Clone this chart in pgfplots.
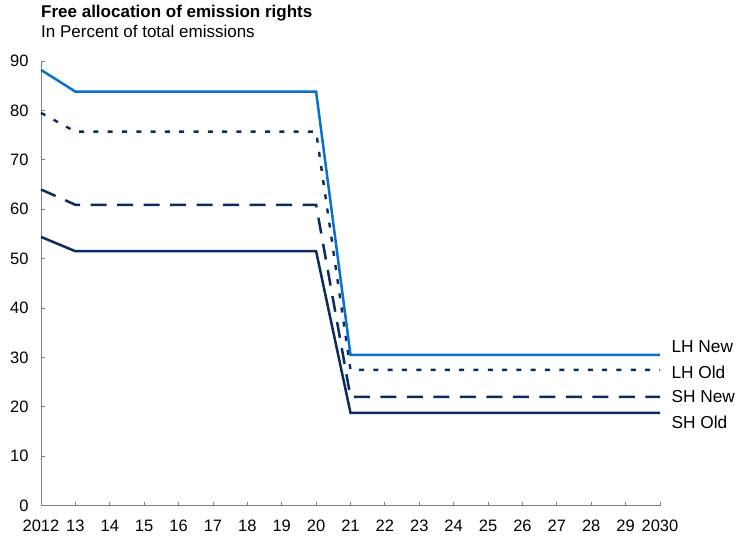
\documentclass[border=0pt]{standalone}
\usepackage{fontspec}
\setmainfont{Liberation Sans}
\usepackage{pgfplots}
\pgfplotsset{compat=1.18}
\definecolor{lhnew}{HTML}{0A6FD0}
\definecolor{navy}{HTML}{0C2C5E}
\definecolor{axgray}{HTML}{7F7F7F}
\begin{document}
\begin{tikzpicture}
\path[use as bounding box] (-41pt,-30.3pt) rectangle (700pt,505.7pt);
\begin{axis}[
  at={(0pt,0pt)}, anchor=south west,
  scale only axis, width=619pt, height=444.7pt,
  xmin=2012, xmax=2030, ymin=0, ymax=90,
  xtick={2012,2013,...,2030},
  xticklabels={2012,13,14,15,16,17,18,19,20,21,22,23,24,25,26,27,28,29,2030},
  ytick={0,10,...,90},
  axis x line*=bottom, axis y line*=left,
  axis line style={axgray, line width=0.8pt, -},
  tick style={axgray, line width=0.8pt},
  tick align=inside,
  major tick length=4pt,
  ticklabel style={font=\fontsize{16.5}{19}\selectfont},
  yticklabel style={xshift=-9pt},
  xticklabel style={yshift=-11pt},
  /pgf/number format/assume math mode=true,
  /pgf/number format/1000 sep={},
  clip=false,
]
\addplot[navy, line width=2.5pt] coordinates {(2012,54.4)(2013,51.5)(2020,51.5)(2021,18.8)(2030,18.8)};
\addplot[navy, line width=2.5pt, dash pattern=on 16pt off 10.5pt] coordinates {(2012,64)(2013,60.9)(2020,60.9)(2021,22)(2030,22)};
\addplot[navy, line width=2.4pt, dash pattern=on 5pt off 9.3pt] coordinates {(2012,79.5)(2013,75.7)(2020,75.7)(2021,27.5)(2030,27.5)};
\addplot[lhnew, line width=2.5pt] coordinates {(2012,88.2)(2013,83.8)(2020,83.8)(2021,30.5)(2030,30.5)};
\node[anchor=west, xshift=8pt, font=\fontsize{17.3}{20}\selectfont] at (axis cs:2030,32.1) {LH New};
\node[anchor=west, xshift=8pt, font=\fontsize{17.3}{20}\selectfont] at (axis cs:2030,27.0) {LH Old};
\node[anchor=west, xshift=8pt, font=\fontsize{17.3}{20}\selectfont] at (axis cs:2030,22.0) {SH New};
\node[anchor=west, xshift=8pt, font=\fontsize{17.3}{20}\selectfont] at (axis cs:2030,16.9) {SH Old};
\end{axis}
\node[anchor=base west, inner sep=0pt, font=\bfseries\fontsize{17}{20}\selectfont] at (0pt,488.4pt) {Free allocation of emission rights};
\node[anchor=base west, inner sep=0pt, font=\fontsize{17}{20}\selectfont] at (0pt,468.4pt) {In Percent of total emissions};
\end{tikzpicture}
\end{document}
